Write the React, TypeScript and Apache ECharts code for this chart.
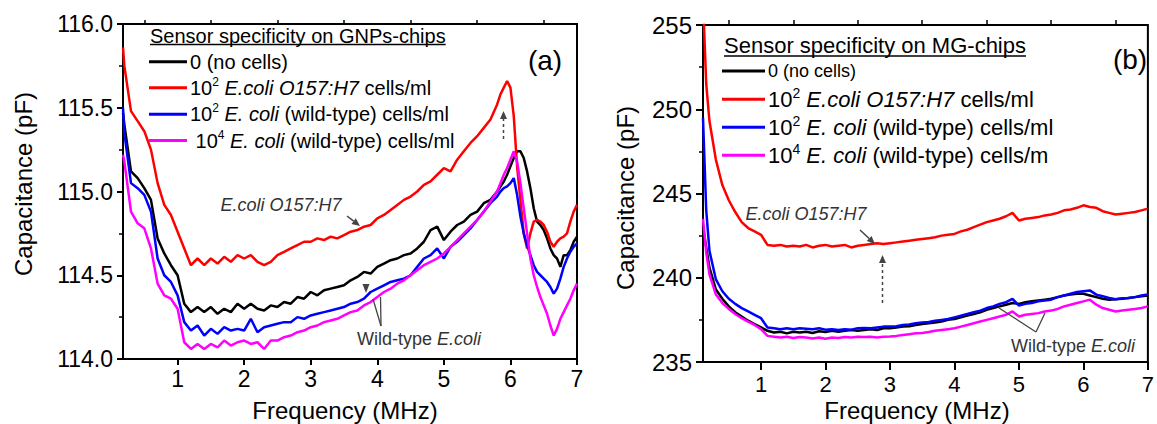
import React, { useEffect, useRef } from "react";
import * as echarts from "echarts";

// ---------------- DATA ----------------
// Panel (a): GNPs-chips
const freqA = [0.18, 0.2, 0.3, 0.4, 0.5, 0.6, 0.7, 0.8, 0.9, 1.0, 1.1,
  1.2, 1.3, 1.4, 1.5, 1.6, 1.7, 1.8, 1.9, 2.0, 2.1, 2.2, 2.3, 2.4, 2.5, 2.6, 2.7, 2.8, 2.9, 3.0,
  3.1, 3.2, 3.3, 3.4, 3.5, 3.6, 3.7, 3.8, 3.9, 4.0, 4.1, 4.2, 4.3, 4.4, 4.5, 4.6, 4.7, 4.8, 4.9, 5.0, 5.1, 5.2, 5.3, 5.4, 5.5, 5.6, 5.7, 5.8,
  5.85, 5.9, 5.95, 6.0, 6.05, 6.1, 6.15, 6.2, 6.25, 6.3, 6.35, 6.4, 6.45, 6.5, 6.55, 6.6, 6.65, 6.7, 6.75, 6.8, 6.85, 6.9, 6.95, 7.0];

const noCellsA = [115.47, 115.4, 115.12, 115.08, 115.02, 114.95, 114.72, 114.63, 114.56, 114.5, 114.33,
  114.28, 114.31, 114.28, 114.31, 114.27, 114.3, 114.28, 114.33, 114.3, 114.33, 114.3, 114.29, 114.32, 114.31, 114.34, 114.33, 114.37, 114.36, 114.4,
  114.38, 114.41, 114.42, 114.43, 114.44, 114.47, 114.49, 114.52, 114.51, 114.55, 114.57, 114.59, 114.6, 114.62, 114.63, 114.66, 114.7, 114.77, 114.79, 114.71, 114.76, 114.8, 114.82, 114.86, 114.88, 114.93, 114.95, 115.0,
  115.03, 115.06, 115.1, 115.15, 115.2, 115.24, 115.24, 115.2, 115.12, 115.02, 114.9, 114.82, 114.8, 114.77, 114.72, 114.66, 114.62, 114.6, 114.55, 114.62, 114.62, 114.65, 114.7, 114.73];

const o157A = [115.86, 115.75, 115.48, 115.42, 115.36, 115.25, 115.05, 114.92, 114.86, 114.76, 114.66,
  114.56, 114.6, 114.56, 114.6, 114.57, 114.61, 114.58, 114.62, 114.6, 114.62, 114.58, 114.56, 114.58, 114.62, 114.64, 114.66, 114.68, 114.7, 114.7,
  114.72, 114.71, 114.73, 114.72, 114.74, 114.76, 114.77, 114.79, 114.8, 114.84, 114.86, 114.89, 114.92, 114.95, 114.97, 115.0, 115.04, 115.06, 115.1, 115.14, 115.12, 115.19, 115.24, 115.29, 115.33, 115.38, 115.43, 115.52,
  115.58, 115.62, 115.66, 115.62, 115.45, 115.15, 114.95, 114.75, 114.66, 114.75, 114.82, 114.83, 114.82, 114.8, 114.76, 114.7, 114.67, 114.7, 114.72, 114.73, 114.75, 114.82, 114.88, 114.92];

const wild2A = [115.5, 115.35, 115.05, 115.02, 114.98, 114.88, 114.6, 114.5, 114.46, 114.38, 114.22,
  114.17, 114.2, 114.14, 114.18, 114.15, 114.19, 114.17, 114.18, 114.17, 114.24, 114.16, 114.19, 114.2, 114.21, 114.22, 114.22, 114.25, 114.24, 114.26,
  114.27, 114.28, 114.29, 114.3, 114.31, 114.33, 114.34, 114.36, 114.4, 114.42, 114.44, 114.46, 114.47, 114.48, 114.5, 114.55, 114.6, 114.62, 114.66, 114.6, 114.67, 114.7, 114.74, 114.78, 114.83, 114.88, 114.93, 114.97,
  115.0, 115.02, 115.03, 115.05, 115.08, 114.98, 114.85, 114.75, 114.68, 114.62, 114.56, 114.52, 114.5, 114.48, 114.46, 114.43, 114.39, 114.42, 114.48, 114.55, 114.6, 114.64, 114.67, 114.69];

const wild4A = [115.22, 115.18, 114.88, 114.81, 114.78, 114.66, 114.45, 114.38, 114.36, 114.3, 114.1,
  114.06, 114.09, 114.06, 114.09, 114.07, 114.11, 114.08, 114.1, 114.11, 114.09, 114.1, 114.06, 114.11, 114.11, 114.13, 114.14, 114.16, 114.17, 114.19,
  114.2, 114.22, 114.23, 114.24, 114.26, 114.28, 114.29, 114.32, 114.34, 114.37, 114.4, 114.42, 114.45, 114.47, 114.5, 114.53, 114.56, 114.58, 114.6, 114.63, 114.67, 114.71, 114.75, 114.79, 114.83, 114.88, 114.94, 115.0,
  115.05, 115.1, 115.14, 115.19, 115.24, 115.18, 115.05, 114.9, 114.75, 114.6, 114.5, 114.43, 114.37, 114.32, 114.27, 114.2, 114.14, 114.18, 114.24, 114.28, 114.32, 114.36, 114.41, 114.45];

// Panel (b): MG-chips
const freqB = [0.1, 0.15, 0.2, 0.3, 0.4, 0.5, 0.6, 0.7, 0.8, 0.9, 1.0,
  1.1, 1.2, 1.3, 1.4, 1.5, 1.6, 1.7, 1.8, 1.9, 2.0, 2.1, 2.2, 2.3, 2.4, 2.5, 2.6, 2.7, 2.8, 2.9, 3.0,
  3.1, 3.2, 3.3, 3.4, 3.5, 3.6, 3.7, 3.8, 3.9, 4.0, 4.1, 4.2, 4.3, 4.4, 4.5, 4.6, 4.7, 4.8, 4.9, 5.0,
  5.1, 5.2, 5.3, 5.4, 5.5, 5.6, 5.7, 5.8, 5.9, 6.0, 6.1, 6.2, 6.3, 6.4, 6.5, 6.6, 6.7, 6.8, 6.9, 7.0];

const noCellsB = [243.0, 241.8, 240.6, 239.3, 238.75, 238.3, 237.95, 237.7, 237.45, 237.25, 237.05,
  236.85, 236.75, 236.8, 236.7, 236.8, 236.75, 236.8, 236.72, 236.82, 236.78, 236.85, 236.8, 236.85, 236.9, 236.85, 236.9, 236.95, 236.9, 237.0, 237.0,
  237.05, 237.1, 237.12, 237.2, 237.25, 237.3, 237.35, 237.4, 237.5, 237.55, 237.65, 237.75, 237.85, 237.95, 238.1, 238.2, 238.3, 238.4, 238.5, 238.45,
  238.55, 238.6, 238.65, 238.7, 238.75, 238.85, 238.95, 239.0, 239.05, 239.05, 238.95, 238.85, 238.75, 238.7, 238.72, 238.75, 238.8, 238.85, 238.9, 238.95];

const o157B = [256.5, 251.5, 249.3, 247.0, 245.5, 244.6, 243.9, 243.3, 242.95, 242.75, 242.55,
  241.95, 241.9, 241.95, 241.85, 241.9, 241.85, 241.95, 241.8, 241.9, 241.95, 241.85, 241.9, 241.95, 241.8, 241.9, 241.95, 242.0, 242.05, 242.0, 242.05,
  242.1, 242.15, 242.2, 242.25, 242.3, 242.35, 242.4, 242.5, 242.55, 242.6, 242.75, 242.85, 243.0, 243.15, 243.3, 243.4, 243.5, 243.65, 243.85, 243.4,
  243.5, 243.55, 243.6, 243.7, 243.75, 243.85, 244.0, 244.05, 244.15, 244.3, 244.2, 244.15, 243.95, 243.85, 243.75, 243.8, 243.85, 243.9, 244.0, 244.1];

const wild2B = [249.5, 244.0, 241.6, 239.9, 239.2, 238.75, 238.45, 238.2, 238.0, 237.8, 237.6,
  237.05, 237.0, 236.95, 237.0, 236.95, 237.0, 236.98, 236.95, 237.0, 236.92, 236.95, 236.9, 236.95, 236.92, 237.0, 237.02, 237.0, 237.05, 237.1, 237.1,
  237.12, 237.2, 237.22, 237.3, 237.35, 237.38, 237.45, 237.5, 237.55, 237.65, 237.75, 237.85, 237.95, 238.05, 238.2, 238.3, 238.45, 238.55, 238.75, 238.35,
  238.45, 238.5, 238.6, 238.65, 238.7, 238.85, 238.95, 239.05, 239.15, 239.2, 239.25, 239.0, 238.9, 238.8, 238.72, 238.78, 238.8, 238.85, 238.95, 239.0];

const wild4B = [243.5, 241.5, 240.2, 239.0, 238.5, 238.15, 237.85, 237.6, 237.4, 237.2, 236.95,
  236.55, 236.5, 236.45, 236.5, 236.42, 236.48, 236.45, 236.4, 236.45, 236.38, 236.45, 236.42, 236.48, 236.45, 236.5, 236.48, 236.5, 236.45, 236.5, 236.52,
  236.55, 236.6, 236.65, 236.7, 236.72, 236.78, 236.85, 236.9, 236.95, 237.0, 237.1, 237.2, 237.3, 237.4, 237.5, 237.6, 237.7, 237.8, 238.0, 237.7,
  237.8, 237.85, 237.9, 238.0, 238.05, 238.15, 238.3, 238.4, 238.5, 238.6, 238.7, 238.4, 238.2, 238.1, 238.0, 238.05, 238.1, 238.15, 238.2, 238.3];

const xTickValues = [1, 2, 3, 4, 5, 6, 7];
const xMinorTickValues = [0.5, 1.5, 2.5, 3.5, 4.5, 5.5, 6.5];

const seriesNames = [
  "0 (no cells)",
  "10² E.coli O157:H7 cells/ml",
  "10² E. coli (wild-type) cells/ml",
  "10⁴ E. coli (wild-type) cells/ml",
];
const seriesColors = ["#000000", "#ff0000", "#0000ff", "#ff00ff"];

// ---------------- STYLE / LAYOUT ----------------
const FONT = "'Liberation Sans', Arial, Helvetica, sans-serif";
const AX = "#000";

function measure(text: string, fs: number, italic = false) {
  const c = document.createElement("canvas").getContext("2d")!;
  c.font = `${italic ? "italic " : ""}${fs}px ${FONT}`;
  return c.measureText(text).width;
}

function richStyles(fs: number, fill = "#000") {
  const sfs = Math.round(fs * 0.62);
  return {
    n: { fontSize: fs, fontFamily: FONT, lineHeight: fs + 4, fill, color: fill },
    i: { fontSize: fs, fontFamily: FONT, fontStyle: "italic", lineHeight: fs + 4, fill, color: fill },
    s: { fontSize: sfs, fontFamily: FONT, verticalAlign: "top", lineHeight: sfs + 1, fill, color: fill },
  };
}

function richText(x: number, y: number, text: string, fs: number, fill = "#000", align = "left") {
  return {
    type: "text",
    x,
    y,
    z: 100,
    style: {
      text,
      rich: richStyles(fs, fill),
      fontSize: fs,
      fontFamily: FONT,
      fill,
      align,
      verticalAlign: "middle",
    },
  };
}

function plainText(x: number, y: number, text: string, fs: number, rotation = 0) {
  return {
    type: "text",
    x,
    y,
    rotation,
    z: 100,
    style: { text, fontSize: fs, fontFamily: FONT, fill: "#000", align: "center", verticalAlign: "middle" },
  };
}

function seg(x1: number, y1: number, x2: number, y2: number, stroke: string, lineWidth: number, dash?: number[]) {
  return {
    type: "line",
    z: 100,
    shape: { x1, y1, x2, y2 },
    style: { stroke, lineWidth, lineDash: dash || null },
  };
}

function arrow(x1: number, y1: number, x2: number, y2: number, dashed = false) {
  const dx = x2 - x1, dy = y2 - y1;
  const L = Math.hypot(dx, dy);
  const ux = dx / L, uy = dy / L;
  const hl = 8, hw = 3.5;
  const bx = x2 - ux * hl, by = y2 - uy * hl;
  return [
    seg(x1, y1, bx, by, "#444", 1.5, dashed ? [3, 3] : undefined),
    {
      type: "polygon",
      z: 100,
      shape: { points: [[x2, y2], [bx - uy * hw, by + ux * hw], [bx + uy * hw, by - ux * hw]] },
      style: { fill: "#444" },
    },
  ];
}

function legendBlock(opts: {
  titleText: string; titleX: number; titleY: number; titleFs: number; underlineY: number;
  lineX1: number; lineX2: number; textX: number; rows: number[]; fs: number[]; texts: string[];
}) {
  const els: any[] = [];
  els.push(richText(opts.titleX, opts.titleY, `{n|${opts.titleText}}`, opts.titleFs));
  const w = measure(opts.titleText, opts.titleFs);
  els.push(seg(opts.titleX, opts.underlineY, opts.titleX + w, opts.underlineY, "#000", 1.3));
  opts.rows.forEach((y, k) => {
    els.push(seg(opts.lineX1, y, opts.lineX2, y, seriesColors[k], 3));
    els.push(richText(opts.textX, y, opts.texts[k], opts.fs[k]));
  });
  return els;
}

function pairs(xs: number[], ys: number[]) {
  return xs.map((x, i) => [x, ys[i]]);
}

function mainX(gridIndex: number, min: number, fs: number, margin: number, tickLen: number) {
  return {
    type: "value",
    gridIndex,
    min,
    max: 7,
    axisLine: { show: true, onZero: false, lineStyle: { color: AX, width: 2 } },
    axisTick: { show: true, inside: false, length: tickLen, lineStyle: { color: AX, width: 2 }, customValues: xTickValues },
    axisLabel: { show: true, customValues: xTickValues, fontSize: fs, fontFamily: FONT, color: "#000", margin },
    splitLine: { show: false },
  };
}

function minorX(gridIndex: number, min: number, tickLen: number) {
  return {
    type: "value",
    gridIndex,
    min,
    max: 7,
    axisLine: { show: false, onZero: false },
    axisTick: { show: true, inside: false, length: tickLen, lineStyle: { color: AX, width: 1.5 }, customValues: xMinorTickValues },
    axisLabel: { show: false },
    splitLine: { show: false },
  };
}

function yAx(gridIndex: number, min: number, max: number, interval: number, digits: number, fs: number, margin: number, tickLen: number) {
  return {
    type: "value",
    gridIndex,
    min,
    max,
    interval,
    axisLine: { show: true, onZero: false, lineStyle: { color: AX, width: 2 } },
    axisTick: { show: true, inside: false, length: tickLen, lineStyle: { color: AX, width: 2 } },
    minorTick: { show: true, splitNumber: 2, length: 4, lineStyle: { color: AX, width: 1.5 } },
    axisLabel: {
      fontSize: fs, fontFamily: FONT, color: "#000", margin,
      formatter: (v: number) => v.toFixed(digits),
    },
    splitLine: { show: false },
    minorSplitLine: { show: false },
  };
}

function lineSeries(name: string, xi: number, yi: number, data: number[][], color: string) {
  return {
    type: "line",
    name,
    xAxisIndex: xi,
    yAxisIndex: yi,
    data,
    showSymbol: false,
    symbol: "none",
    clip: true,
    color,
    lineStyle: { color, width: 2.5 },
  };
}

function buildOption() {
  const aSeries = [noCellsA, o157A, wild2A, wild4A];
  const bSeries = [noCellsB, o157B, wild2B, wild4B];
  const series: any[] = [];
  aSeries.forEach((ys, k) => series.push(lineSeries(seriesNames[k], 0, 0, pairs(freqA, ys), seriesColors[k])));
  bSeries.forEach((ys, k) => series.push(lineSeries(seriesNames[k], 2, 1, pairs(freqB, ys), seriesColors[k])));

  const graphics: any[] = [];
  // Panel (a) legend
  graphics.push(...legendBlock({
    titleText: "Sensor specificity on GNPs-chips",
    titleX: 150, titleY: 35.5, titleFs: 20, underlineY: 44.5,
    lineX1: 149, lineX2: 187, textX: 190,
    rows: [61.7, 87.7, 114.3, 140.5],
    fs: [20, 20, 20, 20],
    texts: [
      "{n|0 (no cells)}",
      "{n|10}{s|2}{n| }{i|E.coli O157:H7}{n| cells/ml}",
      "{n|10}{s|2}{n| }{i|E. coli}{n| (wild-type) cells/ml}",
      "{n| 10}{s|4}{n| }{i|E. coli}{n| (wild-type) cells/ml}",
    ],
  }));
  // Panel (b) legend
  graphics.push(...legendBlock({
    titleText: "Sensor specificity on MG-chips",
    titleX: 724, titleY: 45.8, titleFs: 22, underlineY: 56,
    lineX1: 722, lineX2: 765, textX: 768,
    rows: [71, 99.3, 127.3, 155.3],
    fs: [18, 22, 22, 22],
    texts: [
      "{n|0 (no cells)}",
      "{n|10}{s|2}{n| }{i|E.coli O157:H7}{n| cells/ml}",
      "{n|10}{s|2}{n| }{i|E. coli}{n| (wild-type) cells/ml}",
      "{n|10}{s|4}{n| }{i|E. coli}{n| (wild-type) cells/m}",
    ],
  }));

  // Panel labels
  graphics.push(plainText(545, 60, "(a)", 28));
  graphics.push(plainText(1130, 59, "(b)", 28));

  // Axis titles
  graphics.push(plainText(23, 184, "Capacitance (pF)", 24, Math.PI / 2));
  graphics.push(plainText(625, 198, "Capacitance (pF)", 24, Math.PI / 2));
  graphics.push(plainText(345, 410, "Frequency (MHz)", 24));
  graphics.push(plainText(917, 410, "Frequency (MHz)", 24));

  // Annotations panel (a)
  graphics.push(richText(281, 205, "{i|E.coli O157:H7}", 18, "#333", "center"));
  graphics.push(...arrow(347, 216, 360, 226));
  graphics.push(...arrow(503.5, 139, 503.5, 111, true));
  graphics.push(richText(419, 339, "{n|Wild-type }{i|E.coli}", 18, "#333", "center"));
  graphics.push(seg(381, 326, 373, 299, "#444", 1.3));
  graphics.push(seg(381, 326, 380.5, 297, "#444", 1.3));
  graphics.push({
    type: "polygon", z: 100,
    shape: { points: [[362.5, 284], [369.5, 284], [366, 293]] },
    style: { fill: "#444" },
  });

  // Annotations panel (b)
  graphics.push(richText(806, 213.5, "{i|E.coli O157:H7}", 18, "#333", "center"));
  graphics.push(...arrow(860, 230, 875, 244));
  graphics.push(...arrow(882.5, 303, 882.5, 255, true));
  graphics.push(richText(1073, 346, "{n|Wild-type }{i|E.coli}", 18, "#333", "center"));
  graphics.push(seg(1036, 332, 999, 308, "#444", 1.3));
  graphics.push(seg(1036, 332, 1045, 313, "#444", 1.3));

  return {
    animation: false,
    backgroundColor: "#ffffff",
    textStyle: { fontFamily: FONT },
    grid: [
      { left: 123, top: 24, width: 454, height: 335, show: true, borderColor: "#000", borderWidth: 2, backgroundColor: "transparent", containLabel: false },
      { left: 703, top: 25, width: 452, height: 337, show: true, borderColor: "#000", borderWidth: 2, backgroundColor: "transparent", containLabel: false },
    ],
    xAxis: [
      mainX(0, 0.18, 23, 8, 6),
      minorX(0, 0.18, 4),
      mainX(1, 0.1, 22, 11, 8),
      minorX(1, 0.1, 5),
    ],
    yAxis: [
      yAx(0, 114, 116, 0.5, 1, 23, 10, 6),
      yAx(1, 235, 255, 5, 0, 24, 11, 7),
    ],
    series,
    graphic: { elements: graphics },
  };
}

export default function App() {
  const ref = useRef<HTMLDivElement>(null);
  useEffect(() => {
    if (!ref.current) return;
    const chart = echarts.init(ref.current, null, { renderer: "svg" });
    chart.setOption(buildOption() as any);
    return () => chart.dispose();
  }, []);
  return (
    <div
      ref={ref}
      style={{ position: "absolute", left: 0, top: 0, width: 1157, height: 424, background: "#fff" }}
    />
  );
}
